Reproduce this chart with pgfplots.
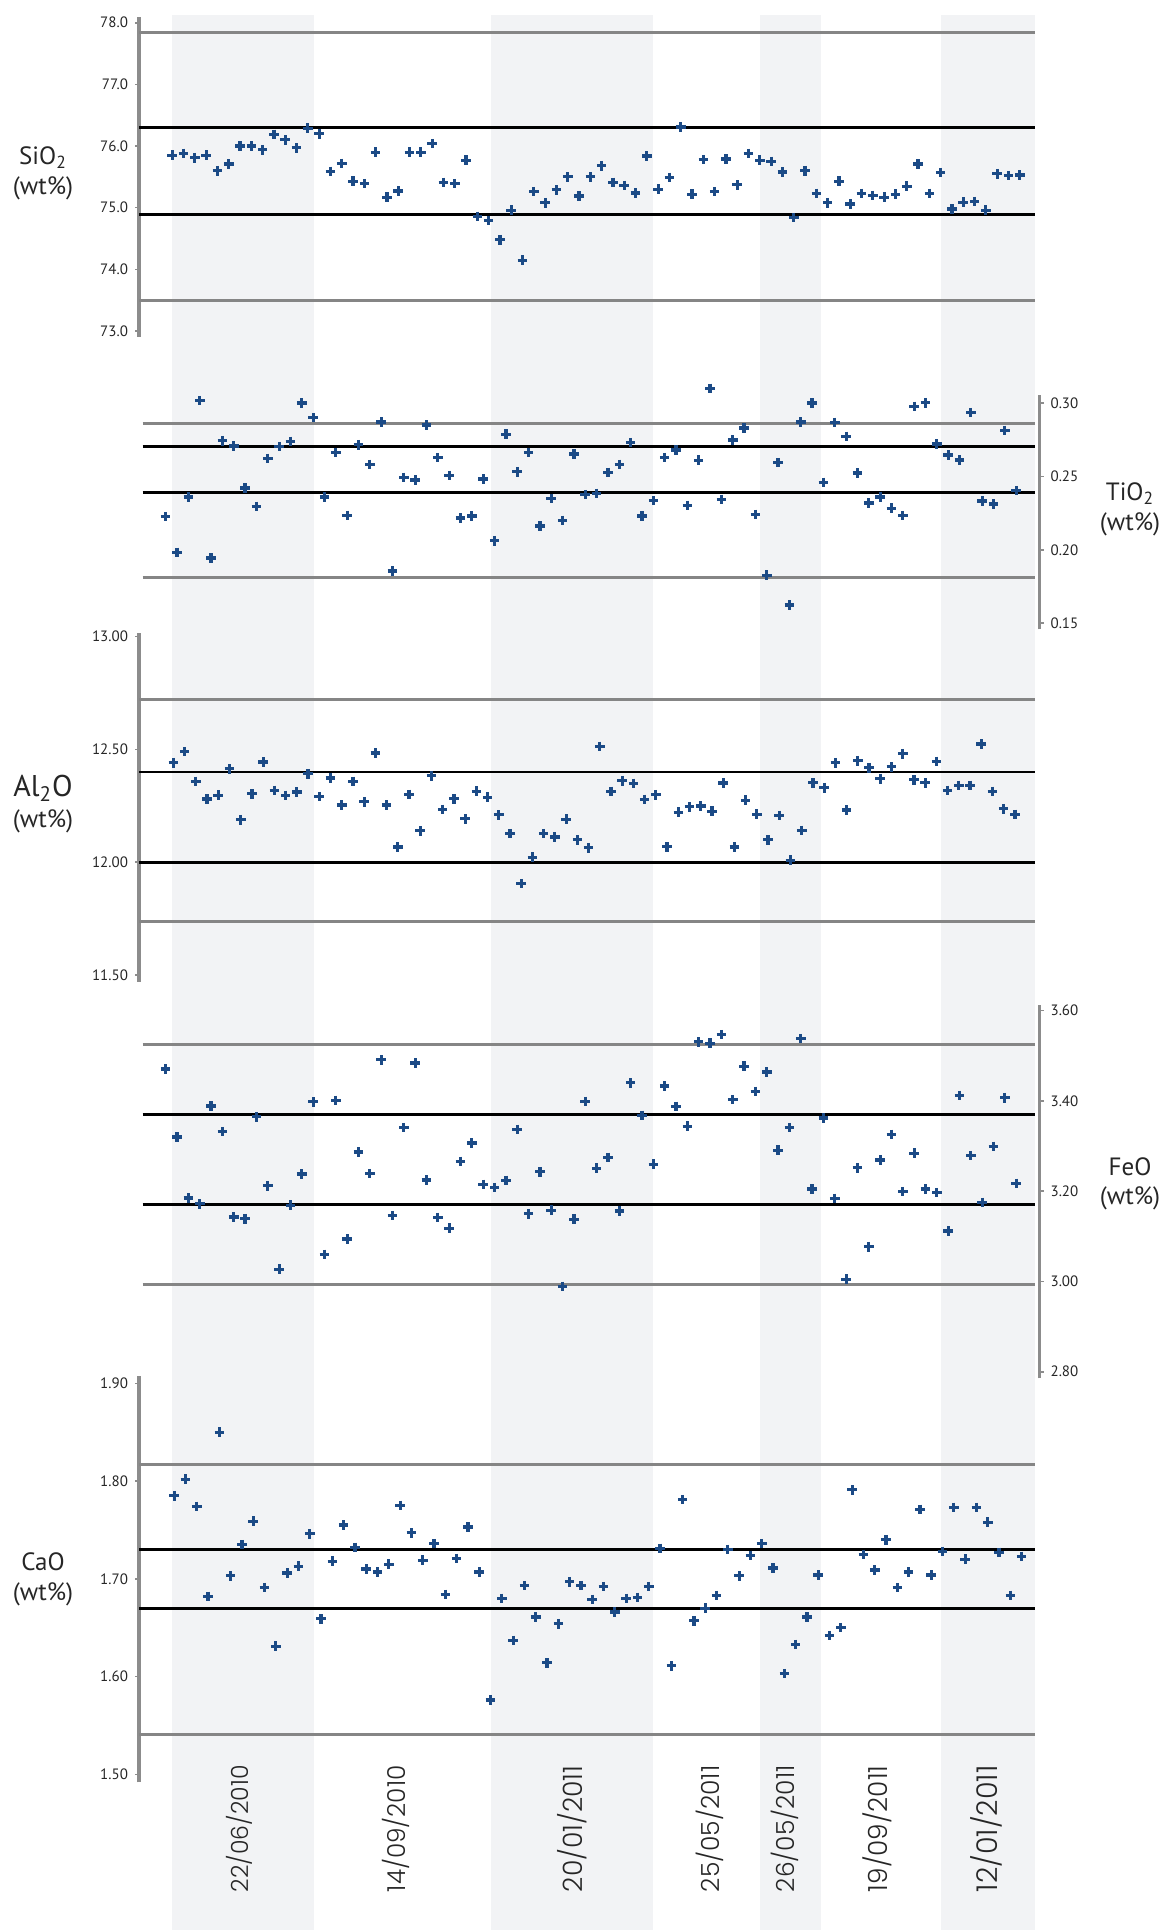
\documentclass[border=0pt]{standalone}
\usepackage{pgfplots}
\pgfplotsset{compat=1.18}
\usepackage{pgfplotstable}
\usepackage{graphicx}
\usepackage{fontspec}
\setmainfont{PT Sans}
\IfFontExistsTF{Poppins Light}{\newfontfamily\datefont{Poppins Light}}{\newfontfamily\datefont{Poppins}}
\definecolor{band}{HTML}{F2F3F5}
\definecolor{mk}{HTML}{1B4A86}
\definecolor{axg}{HTML}{8C8C8C}
\definecolor{refg}{HTML}{858585}

\pgfplotstableread[row sep=\\]{v\\75.85\\75.88\\75.81\\75.85\\75.60\\75.71\\76.00\\76.00\\75.94\\76.19\\76.10\\75.97\\76.29\\76.20\\75.59\\75.72\\75.43\\75.39\\75.90\\75.17\\75.27\\75.90\\75.90\\76.04\\75.41\\75.39\\75.77\\74.86\\74.79\\74.48\\74.96\\74.15\\75.26\\75.08\\75.29\\75.50\\75.19\\75.50\\75.68\\75.41\\75.36\\75.24\\75.84\\75.30\\75.49\\76.31\\75.22\\75.78\\75.26\\75.79\\75.37\\75.88\\75.77\\75.75\\75.58\\74.84\\75.60\\75.23\\75.08\\75.43\\75.06\\75.23\\75.20\\75.17\\75.22\\75.35\\75.71\\75.23\\75.57\\74.98\\75.09\\75.10\\74.96\\75.55\\75.52\\75.53\\}\tabSi
\pgfplotstableread[row sep=\\]{v\\0.2226\\0.1983\\0.2360\\0.3016\\0.1944\\0.2743\\0.2707\\0.2421\\0.2296\\0.2623\\0.2703\\0.2739\\0.3000\\0.2900\\0.2360\\0.2662\\0.2235\\0.2716\\0.2582\\0.2871\\0.1856\\0.2494\\0.2475\\0.2850\\0.2628\\0.2507\\0.2217\\0.2230\\0.2482\\0.2062\\0.2787\\0.2532\\0.2664\\0.2162\\0.2351\\0.2201\\0.2653\\0.2376\\0.2385\\0.2527\\0.2582\\0.2730\\0.2231\\0.2335\\0.2628\\0.2680\\0.2303\\0.2610\\0.3100\\0.2344\\0.2748\\0.2830\\0.2242\\0.1827\\0.2594\\0.1625\\0.2871\\0.3000\\0.2460\\0.2868\\0.2773\\0.2524\\0.2319\\0.2360\\0.2283\\0.2233\\0.2977\\0.3002\\0.2721\\0.2646\\0.2612\\0.2934\\0.2333\\0.2312\\0.2814\\0.2403\\}\tabTi
\pgfplotstableread[row sep=\\]{v\\12.441\\12.490\\12.358\\12.280\\12.297\\12.414\\12.188\\12.303\\12.444\\12.318\\12.296\\12.311\\12.392\\12.291\\12.373\\12.254\\12.358\\12.268\\12.484\\12.254\\12.067\\12.300\\12.139\\12.383\\12.234\\12.281\\12.192\\12.315\\12.288\\12.210\\12.127\\11.905\\12.022\\12.127\\12.112\\12.191\\12.099\\12.064\\12.513\\12.314\\12.361\\12.349\\12.278\\12.299\\12.068\\12.222\\12.246\\12.249\\12.226\\12.351\\12.067\\12.275\\12.213\\12.099\\12.207\\12.009\\12.141\\12.352\\12.330\\12.441\\12.231\\12.450\\12.419\\12.370\\12.423\\12.481\\12.365\\12.352\\12.447\\12.318\\12.340\\12.340\\12.524\\12.314\\12.237\\12.212\\}\tabAl
\pgfplotstableread[row sep=\\]{v\\3.471\\3.320\\3.185\\3.172\\3.389\\3.332\\3.143\\3.139\\3.365\\3.212\\3.027\\3.169\\3.238\\3.398\\3.060\\3.401\\3.094\\3.287\\3.239\\3.491\\3.146\\3.341\\3.484\\3.225\\3.142\\3.118\\3.266\\3.307\\3.215\\3.208\\3.224\\3.337\\3.150\\3.243\\3.158\\2.989\\3.138\\3.399\\3.251\\3.275\\3.156\\3.440\\3.368\\3.260\\3.433\\3.388\\3.344\\3.531\\3.528\\3.547\\3.403\\3.477\\3.421\\3.464\\3.291\\3.341\\3.538\\3.205\\3.362\\3.184\\3.005\\3.252\\3.077\\3.269\\3.326\\3.199\\3.284\\3.205\\3.197\\3.112\\3.412\\3.279\\3.175\\3.299\\3.407\\3.217\\}\tabFe
\pgfplotstableread[row sep=\\]{v\\1.785\\1.802\\1.774\\1.682\\1.850\\1.703\\1.735\\1.759\\1.691\\1.631\\1.706\\1.713\\1.746\\1.659\\1.718\\1.755\\1.732\\1.710\\1.707\\1.715\\1.775\\1.747\\1.719\\1.736\\1.684\\1.721\\1.753\\1.707\\1.576\\1.680\\1.637\\1.693\\1.661\\1.614\\1.654\\1.697\\1.693\\1.679\\1.692\\1.666\\1.680\\1.681\\1.692\\1.731\\1.611\\1.781\\1.657\\1.670\\1.683\\1.730\\1.703\\1.724\\1.736\\1.711\\1.603\\1.633\\1.661\\1.704\\1.642\\1.650\\1.791\\1.725\\1.709\\1.740\\1.691\\1.707\\1.771\\1.704\\1.728\\1.773\\1.720\\1.773\\1.758\\1.727\\1.683\\1.723\\}\tabCa

\pgfplotsset{
  panel/.style={
    scale only axis, width=450.25pt, clip=false,
    axis x line=none, xtick=\empty,
    axis line style={-, draw=axg, line width=1.6pt},
    every outer y axis line/.append style={-},
    every inner y axis line/.append style={-},
    y axis line style={-},
    tick style={draw=axg, line width=0.8pt},
    major tick length=2pt, tick align=outside,
    yticklabel style={font=\fontsize{7.5}{9}\selectfont, text=black!85},
    /pgf/number format/assume math mode=true,
  },
  leftp/.style={axis y line=left, panel},
  rightp/.style={axis y line=right, panel},
  prec/.style={yticklabel style={/pgf/number format/.cd, fixed, fixed zerofill, precision=#1}},
  refgray/.style={draw=refg, line width=1.5pt, mark=none},
  refblk/.style={draw=black, line width=1.4pt, mark=none},
  pts/.style={only marks, mark=+, mark size=2.4pt, mark options={draw=mk, line width=1.6pt}},
}

\begin{document}
\begin{tikzpicture}
\path (0pt,0pt) rectangle (583pt,-965pt);
% background: bands and texts, in pixel units
\begin{axis}[at={(0pt,0pt)}, anchor=north west, scale only axis, width=583pt, height=965pt,
  xmin=0, xmax=1166, ymin=0, ymax=1930, y dir=reverse, hide axis, clip=false]
\fill[band] (axis cs:172,15) rectangle (axis cs:314,1930);
\fill[band] (axis cs:491,15) rectangle (axis cs:653,1930);
\fill[band] (axis cs:760,15) rectangle (axis cs:821,1930);
\fill[band] (axis cs:941,15) rectangle (axis cs:1035,1930);
\begin{scope}[every node/.style={font=\fontsize{12.5}{15}\selectfont, anchor=base, inner sep=0pt, text=black!85}]
\node at (axis cs:43,164) {SiO\textsubscript{2}};
\node at (axis cs:43,194) {(wt\%)};
\node[font=\fontsize{15}{18}\selectfont] at (axis cs:43,796) {Al\textsubscript{2}O};
\node at (axis cs:43,827) {(wt\%)};
\node at (axis cs:43,1570) {CaO};
\node at (axis cs:43,1600) {(wt\%)};
\node at (axis cs:1130,500) {TiO\textsubscript{2}};
\node at (axis cs:1130,530) {(wt\%)};
\node at (axis cs:1130,1175) {FeO};
\node at (axis cs:1130,1204) {(wt\%)};
\end{scope}
\begin{scope}[every node/.style={rotate=90, anchor=east, inner sep=0pt, text=black!85, font=\datefont}]
\node at (axis cs:239,1765) {\resizebox{63.3pt}{!}{22/06/2010}};
\node at (axis cs:396,1765) {\resizebox{63.3pt}{!}{14/09/2010}};
\node at (axis cs:572,1765) {\resizebox{63.3pt}{!}{20/01/2011}};
\node at (axis cs:710,1765) {\resizebox{63.3pt}{!}{25/05/2011}};
\node at (axis cs:785,1765) {\resizebox{63.3pt}{!}{26/05/2011}};
\node at (axis cs:877,1765) {\resizebox{63.3pt}{!}{19/09/2011}};
\node at (axis cs:986,1765) {\resizebox{63.3pt}{!}{12/01/2011}};
\end{scope}
\end{axis}

% SiO2
\begin{axis}[leftp, prec=1, at={(69.5pt,-168.5pt)}, anchor=south west, height=159.85pt,
  xmin=-2.938, xmax=76.752, ymin=72.903, ymax=78.088, ytick={73,74,75,76,77,78}]
\addplot[refgray] coordinates {(-2.938,77.84) (76.354,77.84)};
\addplot[refgray] coordinates {(-2.938,73.50) (76.354,73.50)};
\addplot[refblk] coordinates {(-2.938,76.30) (76.354,76.30)};
\addplot[refblk] coordinates {(-2.938,74.89) (76.354,74.89)};
\addplot[pts] table[x expr=\coordindex, y=v] {\tabSi};
\end{axis}

% TiO2
\begin{axis}[rightp, prec=2, at={(69.5pt,-314.65pt)}, anchor=south west, height=117.15pt,
  xmin=-2.354, xmax=77.055, ymin=0.1459, ymax=0.30545, ytick={0.15,0.2,0.25,0.3}]
\addplot[refgray] coordinates {(-2.028,0.2862) (76.658,0.2862)};
\addplot[refgray] coordinates {(-2.028,0.1813) (76.658,0.1813)};
\addplot[refblk] coordinates {(-2.028,0.2705) (76.658,0.2705)};
\addplot[refblk] coordinates {(-2.028,0.2389) (76.658,0.2389)};
\addplot[pts] table[x expr=\coordindex, y=v] {\tabTi};
\end{axis}

% Al2O
\begin{axis}[leftp, prec=2, at={(69.5pt,-490.85pt)}, anchor=south west, height=174.5pt,
  xmin=-3.066, xmax=77.193, ymin=11.470, ymax=13.0177, ytick={11.5,12,12.5,13}]
\addplot[refgray] coordinates {(-3.066,12.722) (76.791,12.722)};
\addplot[refgray] coordinates {(-3.066,11.737) (76.791,11.737)};
\addplot[refblk] coordinates {(-3.066,12.40) (76.791,12.40)};
\addplot[refblk] coordinates {(-3.066,12.00) (76.791,12.00)};
\addplot[pts] table[x expr=\coordindex, y=v] {\tabAl};
\end{axis}

% FeO
\begin{axis}[rightp, prec=2, at={(69.5pt,-689.15pt)}, anchor=south west, height=186.65pt,
  xmin=-2.354, xmax=77.055, ymin=2.7854, ymax=3.6126, ytick={2.8,3.0,3.2,3.4,3.6}]
\addplot[refgray] coordinates {(-2.028,3.525) (76.658,3.525)};
\addplot[refgray] coordinates {(-2.028,2.994) (76.658,2.994)};
\addplot[refblk] coordinates {(-2.028,3.370) (76.658,3.370)};
\addplot[refblk] coordinates {(-2.028,3.171) (76.658,3.171)};
\addplot[pts] table[x expr=\coordindex, y=v] {\tabFe};
\end{axis}

% CaO
\begin{axis}[leftp, prec=2, at={(69.5pt,-891.15pt)}, anchor=south west, height=203.15pt,
  xmin=-3.106, xmax=76.584, ymin=1.4918, ymax=1.9075, ytick={1.5,1.6,1.7,1.8,1.9}]
\addplot[refgray] coordinates {(-3.106,1.817) (76.186,1.817)};
\addplot[refgray] coordinates {(-3.106,1.541) (76.186,1.541)};
\addplot[refblk] coordinates {(-3.106,1.730) (76.186,1.730)};
\addplot[refblk] coordinates {(-3.106,1.670) (76.186,1.670)};
\addplot[pts] table[x expr=\coordindex, y=v] {\tabCa};
\end{axis}
\end{tikzpicture}
\end{document}
